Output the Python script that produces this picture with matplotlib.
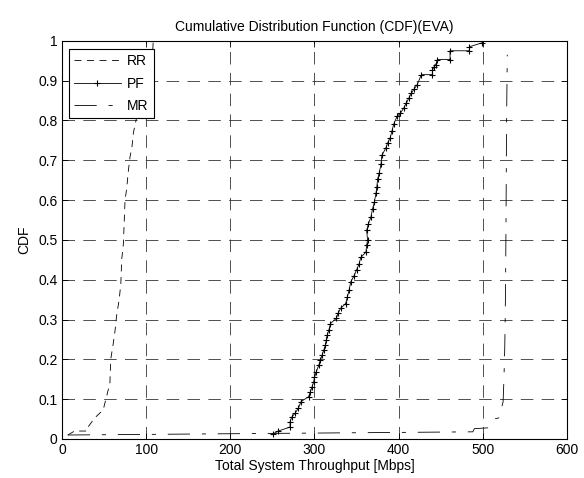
import matplotlib
matplotlib.use("Agg")
import matplotlib.pyplot as plt
import numpy as np

# --- data (throughput in Mbps, CDF value) ---
rr_x = [7, 15, 30, 31, 39, 49, 52, 57, 58, 61, 63, 65, 68, 70, 71, 73, 75,
        77, 79, 81, 83, 85, 87, 90, 95, 100, 105, 108, 108.5]
rr_y = [0.01, 0.02, 0.02, 0.03, 0.053, 0.073, 0.098, 0.14, 0.2, 0.24, 0.27,
        0.31, 0.35, 0.39, 0.45, 0.49, 0.6, 0.63, 0.675, 0.71, 0.73, 0.77,
        0.79, 0.82, 0.88, 0.93, 0.96, 0.98, 1.0]

pf_x = [251, 257, 271, 271, 273, 277, 281, 284, 293, 295, 297, 299, 300,
        302, 305, 307, 309, 311, 313, 314, 315, 317, 319, 326, 328, 331,
        337, 339, 341, 343, 347, 350, 353, 355, 361, 362, 363, 362, 364,
        367, 369, 371, 373, 374, 375, 377, 379, 380, 385, 387, 390, 392,
        394, 398, 402, 406, 409, 412, 415, 418, 422, 427, 440, 440, 442,
        444, 446, 461, 461, 484, 484, 499]
pf_y = [0.013, 0.02, 0.03, 0.043, 0.055, 0.065, 0.078, 0.094, 0.106, 0.118,
        0.13, 0.143, 0.155, 0.168, 0.185, 0.198, 0.21, 0.223, 0.236, 0.248,
        0.26, 0.273, 0.29, 0.303, 0.316, 0.328, 0.34, 0.356, 0.373, 0.394,
        0.41, 0.425, 0.44, 0.456, 0.469, 0.486, 0.5, 0.524, 0.54, 0.557,
        0.578, 0.594, 0.617, 0.632, 0.653, 0.669, 0.69, 0.712, 0.732, 0.744,
        0.757, 0.773, 0.79, 0.81, 0.818, 0.831, 0.843, 0.856, 0.868, 0.878,
        0.89, 0.915, 0.915, 0.926, 0.935, 0.94, 0.953, 0.953, 0.975, 0.975,
        0.985, 0.995]

mr_x = [7, 488, 490, 506, 508, 510, 513, 519, 524, 525, 526, 526.5, 527,
        527.5, 528, 528.5, 529]
mr_y = [0.01, 0.018, 0.026, 0.028, 0.035, 0.04, 0.05, 0.053, 0.093, 0.148,
        0.23, 0.3, 0.4, 0.55, 0.75, 0.87, 0.965]

x_ticks = np.arange(0, 601, 100)
y_ticks = np.arange(0, 1.01, 0.1)
y_tick_labels = ["0", "0.1", "0.2", "0.3", "0.4", "0.5", "0.6", "0.7",
                 "0.8", "0.9", "1"]

plt.rcParams["font.family"] = ["Liberation Sans", "DejaVu Sans"]
plt.rcParams["font.size"] = 10
plt.rcParams["lines.scale_dashes"] = False

fig = plt.figure(figsize=(5.84, 4.78), dpi=100)
ax = fig.add_axes([0.106, 0.0816, 0.865, 0.833])

ax.plot(rr_x, rr_y, color="black", lw=0.6, dashes=(5, 4), label="RR")
ax.plot(pf_x, pf_y, color="black", lw=0.6, marker="+", ms=5, mew=0.8,
        label="PF")
ax.plot(mr_x, mr_y, color="black", lw=0.6, dashes=(16, 8.5, 3, 8.5),
        label="MR")

ax.set_xlim(0, 600)
ax.set_ylim(0, 1)
ax.set_xticks(x_ticks)
ax.set_yticks(y_ticks)
ax.set_yticklabels(y_tick_labels)
ax.tick_params(direction="in", top=True, right=True, length=4, width=0.6,
               labelsize=10, pad=3)
for s in ax.spines.values():
    s.set_linewidth(0.8)

ax.grid(True, color="#333333", lw=0.6, dashes=(9, 6))

ax.set_title("Cumulative Distribution Function (CDF)(EVA)", fontsize=10, pad=7)
ax.set_xlabel("Total System Throughput [Mbps]", fontsize=10, labelpad=1)
ax.set_ylabel("CDF", fontsize=10, labelpad=5)

leg = ax.legend(loc="upper left", bbox_to_anchor=(0.014, 0.979),
                borderaxespad=0, fancybox=False, framealpha=1,
                edgecolor="black", handlelength=3.4, handletextpad=0.45,
                labelspacing=0.62, numpoints=1, borderpad=0.35)
leg.get_frame().set_linewidth(0.8)

fig.savefig("out.png", dpi=100)
